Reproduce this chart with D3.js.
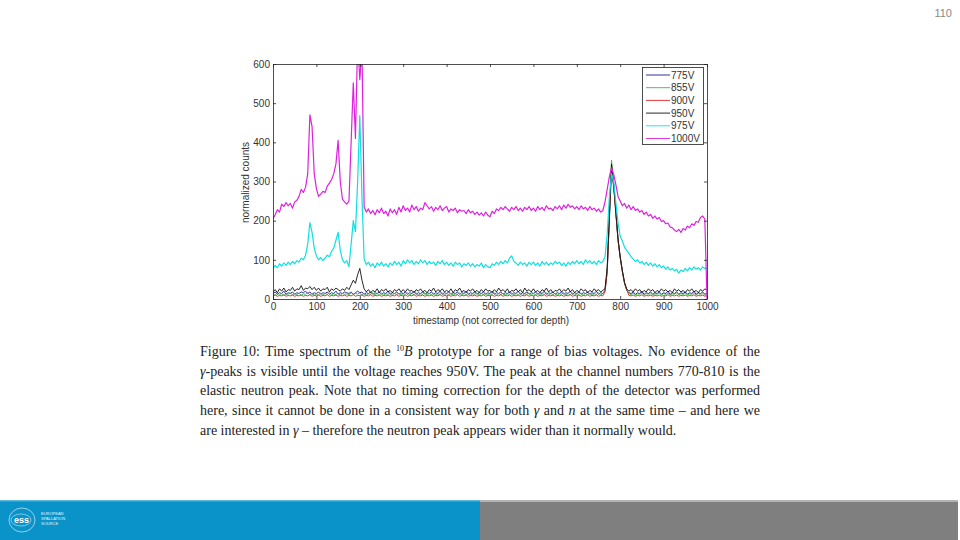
<!DOCTYPE html>
<html>
<head>
<meta charset="utf-8">
<script src="https://cdn.jsdelivr.net/npm/d3@7"></script>
<style>
  body { margin: 0; background: #fff; }
  #page { position: relative; width: 960px; height: 540px; overflow: hidden; }
  #caption { position: absolute; left: 200px; top: 342px; width: 560px;
    font-family: "Liberation Serif", "DejaVu Serif", serif; font-size: 14px; color: #222; }
  #caption div { height: 19.7px; line-height: 19.7px; white-space: nowrap; text-align: justify; text-align-last: justify; }
  #caption div.last { text-align-last: left; }
  #caption .sup { position: relative; top: -5px; font-size: 8px; line-height: 0; }
</style>
</head>
<body>
<div id="page"><div id="caption"></div></div>
<script>
// channel grid (every 5th timestamp)
const timestamps = d3.range(0, 1001, 5);

const v775 = [
  14,18,12,16,14,20,12,16,14,18,12,16,14,18,16,20,14,18,12,16,
  14,18,12,16,14,18,12,16,14,20,12,16,14,18,16,14,18,12,16,20,
  16,18,12,16,14,18,12,16,14,18,12,16,14,20,12,16,14,18,12,16,
  14,18,12,16,14,20,12,16,14,18,12,16,14,18,12,16,14,20,12,16,
  14,18,12,16,14,18,12,16,14,20,12,16,14,18,12,16,14,18,12,16,
  14,20,12,16,14,18,12,16,14,18,12,16,14,20,12,16,14,18,12,16,
  14,18,12,16,14,20,12,16,14,18,12,16,14,18,12,16,14,20,12,16,
  14,18,12,16,14,18,12,16,14,20,12,16,14,22,70,200,328,286,218,150,
  105,70,40,22,16,14,18,12,16,14,20,12,16,14,18,12,16,14,18,12,
  16,14,20,12,16,14,18,12,16,14,18,12,16,14,20,12,16,14,18,12,
  16];

const v855 = [
  12,10,15,11,14,9,13,12,16,10,14,11,15,10,13,12,16,11,14,10,
  13,11,15,10,14,12,16,10,13,11,15,10,14,12,13,11,16,12,14,13,
  15,11,14,10,13,12,16,10,14,11,15,10,13,12,16,10,14,11,15,10,
  13,12,16,10,14,11,15,10,13,12,16,10,14,11,15,10,13,12,16,10,
  14,11,15,10,13,12,16,10,14,11,15,10,13,12,16,10,14,11,15,10,
  13,12,16,10,14,11,15,10,13,12,16,10,14,11,15,10,13,12,16,10,
  14,11,15,10,13,12,16,10,14,11,15,10,13,12,16,10,14,11,15,10,
  13,12,16,10,14,11,15,10,13,12,16,10,14,20,72,212,355,290,220,150,
  108,70,40,22,14,11,15,10,13,12,16,10,14,11,15,10,13,12,16,10,
  14,11,15,10,13,12,16,10,14,11,15,10,13,12,16,10,14,11,15,10,
  12];

const v900 = [
  8,10,7,9,8,11,7,9,8,10,7,9,8,10,7,9,8,11,7,9,
  8,10,7,9,8,11,7,9,8,10,7,9,8,10,7,9,8,11,7,9,
  9,10,7,9,8,11,7,9,8,10,7,9,8,10,7,9,8,11,7,9,
  8,10,7,9,8,11,7,9,8,10,7,9,8,10,7,9,8,11,7,9,
  8,10,7,9,8,11,7,9,8,10,7,9,8,10,7,9,8,11,7,9,
  8,10,7,9,8,11,7,9,8,10,7,9,8,10,7,9,8,11,7,9,
  8,10,7,9,8,11,7,9,8,10,7,9,8,10,7,9,8,11,7,9,
  8,10,7,9,8,11,7,9,8,10,7,9,8,18,68,205,340,292,222,152,
  106,72,42,24,9,8,10,7,9,8,11,7,9,8,10,7,9,8,10,7,
  9,8,11,7,9,8,10,7,9,8,10,7,9,8,11,7,9,8,10,7,
  9];

const v950 = [
  18,24,16,26,20,28,18,24,22,30,20,26,24,34,22,28,26,32,24,30,
  22,28,20,26,24,30,18,26,22,28,24,20,26,22,30,24,36,48,40,62,
  78,48,26,18,24,16,22,18,26,16,24,20,26,18,22,16,24,20,26,18,
  24,18,26,20,22,16,24,20,26,18,22,16,24,20,28,18,24,20,26,18,
  22,18,26,16,24,20,28,18,22,16,24,20,26,18,22,16,24,18,26,20,
  22,16,24,18,28,20,24,18,26,16,22,20,26,18,24,16,28,20,24,18,
  26,18,22,16,24,20,28,18,24,16,22,20,26,18,24,20,28,18,24,16,
  22,18,26,20,24,16,22,18,26,20,24,18,22,26,80,215,345,292,222,155,
  108,72,42,26,20,24,18,26,20,24,16,22,18,26,20,24,16,22,18,26,
  20,24,18,22,16,26,20,24,18,22,16,24,20,26,18,22,16,24,20,26,
  22];

const v975 = [
  78,86,80,90,84,92,86,94,88,96,90,98,94,104,100,112,140,195,170,130,
  110,100,106,98,104,112,108,122,130,150,170,125,100,92,98,82,140,200,172,300,
  468,260,102,88,94,84,90,80,92,86,94,84,90,82,92,86,96,88,94,84,
  98,90,100,92,98,88,96,90,100,92,98,88,96,90,94,86,96,90,98,88,
  94,86,92,84,94,88,92,82,90,86,92,84,90,82,88,84,92,80,88,82,
  80,90,86,94,88,96,90,98,92,104,110,96,92,86,94,88,92,84,94,88,
  94,86,92,84,96,88,94,86,92,88,96,90,94,86,92,84,94,88,96,90,
  98,90,96,88,100,92,98,90,96,88,98,92,96,108,165,260,320,300,245,195,
  160,148,132,124,116,108,102,96,100,92,96,88,94,86,92,84,90,82,88,80,
  84,76,82,74,78,72,76,66,74,70,78,72,80,74,82,76,80,74,82,78,
  78];

const v1000 = [
  205,215,228,222,242,236,246,238,244,232,248,252,262,280,272,285,320,470,440,320,
  282,262,268,275,272,288,296,305,320,345,405,300,255,248,242,250,400,552,410,660,
  560,640,235,222,230,218,226,215,228,220,232,218,224,212,230,220,228,216,234,222,
  238,226,232,222,240,228,236,224,232,228,246,238,230,236,224,234,228,238,226,232,
  236,222,230,226,232,220,228,224,226,218,228,220,224,216,222,214,220,212,222,214,
  210,224,218,230,226,234,228,236,230,224,234,228,236,226,232,224,234,228,236,226,
  232,224,236,228,234,226,238,230,232,226,236,230,238,228,240,232,242,234,238,230,
  236,228,238,230,234,226,236,228,232,224,230,222,226,248,280,312,335,318,292,262,
  250,238,244,232,240,228,236,226,230,222,226,216,222,212,216,206,212,204,208,198,
  200,192,194,184,182,176,172,178,170,180,176,186,182,192,188,198,196,208,212,204,
  0];

const seriesNames = ["775V", "855V", "900V", "950V", "975V", "1000V"];
const seriesValues = [v775, v855, v900, v950, v975, v1000];
const seriesColors = ["#1c1c9a", "#33bb44", "#e02424", "#111111", "#10e0e0", "#dd22dd"];
const seriesWidths = [0.9, 0.9, 0.9, 0.9, 1.2, 1.2];
const xTicks = [0, 100, 200, 300, 400, 500, 600, 700, 800, 900, 1000];
const yTicks = [0, 100, 200, 300, 400, 500, 600];

const svg = d3.select("#page").insert("svg", "#caption")
    .attr("width", 960)
    .attr("height", 540)
    .style("position", "absolute")
    .style("left", 0)
    .style("top", 0);

const plotLeft = 273, plotRight = 707, plotTop = 64, plotBottom = 299;

const x = d3.scaleLinear().domain([0, 1000]).range([plotLeft, plotRight]);
const y = d3.scaleLinear().domain([0, 600]).range([plotBottom, plotTop]);

svg.append("clipPath").attr("id", "plotClip")
  .append("rect")
    .attr("x", plotLeft).attr("y", plotTop)
    .attr("width", plotRight - plotLeft).attr("height", plotBottom - plotTop);

// lines
const line = d3.line()
    .x((d, i) => x(timestamps[i]))
    .y(d => y(d));

svg.append("g")
    .attr("clip-path", "url(#plotClip)")
  .selectAll("path")
  .data(seriesValues)
  .join("path")
    .attr("d", d => line(d))
    .attr("fill", "none")
    .attr("stroke", (d, i) => seriesColors[i])
    .attr("stroke-width", (d, i) => seriesWidths[i])
    .attr("stroke-linejoin", "round");

// axes, ticks inside on all four sides
function styleAxis(g) {
    g.selectAll("path").attr("stroke", "#222").attr("stroke-width", 0.8);
    g.selectAll("line").attr("stroke", "#222").attr("stroke-width", 0.8);
    g.selectAll("text")
        .attr("font-family", "'Liberation Sans', Arial, sans-serif")
        .attr("font-size", 10)
        .attr("fill", "#333");
}

svg.append("g")
    .attr("transform", `translate(0,${plotBottom})`)
    .call(d3.axisBottom(x).tickValues(xTicks).tickFormat(d3.format("d"))
        .tickSizeInner(-3).tickSizeOuter(0).tickPadding(4))
    .call(styleAxis);

svg.append("g")
    .attr("transform", `translate(0,${plotTop})`)
    .call(d3.axisTop(x).tickValues(xTicks).tickSizeInner(-3).tickSizeOuter(0).tickFormat(""))
    .call(styleAxis);

svg.append("g")
    .attr("transform", `translate(${plotLeft},0)`)
    .call(d3.axisLeft(y).tickValues(yTicks).tickSizeInner(-3).tickSizeOuter(0).tickPadding(3))
    .call(styleAxis);

svg.append("g")
    .attr("transform", `translate(${plotRight},0)`)
    .call(d3.axisRight(y).tickValues(yTicks).tickSizeInner(-3).tickSizeOuter(0).tickFormat(""))
    .call(styleAxis);

// axis titles
svg.append("text")
    .attr("x", (plotLeft + plotRight) / 2 + 1)
    .attr("y", 324)
    .attr("text-anchor", "middle")
    .attr("font-family", "'Liberation Sans', Arial, sans-serif")
    .attr("font-size", 10)
    .attr("fill", "#333")
    .text("timestamp (not corrected for depth)");

svg.append("text")
    .attr("transform", `translate(249,${(plotTop + plotBottom) / 2 + 1}) rotate(-90)`)
    .attr("text-anchor", "middle")
    .attr("font-family", "'Liberation Sans', Arial, sans-serif")
    .attr("font-size", 10)
    .attr("fill", "#333")
    .text("normalized counts");

// legend
const legend = svg.append("g");
legend.append("rect")
    .attr("x", 642.5).attr("y", 67.5)
    .attr("width", 61).attr("height", 77)
    .attr("fill", "#fff")
    .attr("stroke", "#222")
    .attr("stroke-width", 0.8);

const rows = legend.selectAll("g.row")
  .data(seriesNames)
  .join("g")
    .attr("class", "row")
    .attr("transform", (d, i) => `translate(0,${75 + i * 12.7})`);

rows.append("line")
    .attr("x1", 646).attr("x2", 670)
    .attr("stroke", (d, i) => seriesColors[i])
    .attr("stroke-width", 0.9);

rows.append("text")
    .attr("x", 671)
    .attr("dy", "0.35em")
    .attr("font-family", "'Liberation Sans', Arial, sans-serif")
    .attr("font-size", 10)
    .attr("fill", "#333")
    .text(d => d);

// page number
svg.append("text")
    .attr("x", 952).attr("y", 17)
    .attr("text-anchor", "end")
    .attr("font-family", "'Liberation Sans', Arial, sans-serif")
    .attr("font-size", 11)
    .attr("fill", "#888")
    .text("110");

// footer bar
svg.append("rect").attr("x", 0).attr("y", 500).attr("width", 480).attr("height", 40).attr("fill", "#0a93c8");
svg.append("rect").attr("x", 0).attr("y", 500).attr("width", 480).attr("height", 1.5).attr("fill", "#5bb6dd");
svg.append("rect").attr("x", 480).attr("y", 500).attr("width", 478).attr("height", 40).attr("fill", "#7f7f7f");
svg.append("rect").attr("x", 480).attr("y", 500).attr("width", 478).attr("height", 2).attr("fill", "#b4b4b4");

const logo = svg.append("g");
logo.append("ellipse").attr("cx", 22).attr("cy", 520).attr("rx", 13).attr("ry", 12)
    .attr("fill", "none").attr("stroke", "#cfe9f5").attr("stroke-width", 0.7);
logo.append("ellipse").attr("cx", 21).attr("cy", 520).attr("rx", 10).attr("ry", 6)
    .attr("fill", "none").attr("stroke", "#cfe9f5").attr("stroke-width", 0.6);
logo.append("text").attr("x", 21.5).attr("y", 523)
    .attr("text-anchor", "middle")
    .attr("font-family", "'Liberation Sans', Arial, sans-serif")
    .attr("font-weight", "bold")
    .attr("font-size", 9)
    .attr("fill", "#fff")
    .text("ess");
logo.selectAll("text.org")
  .data(["EUROPEAN", "SPALLATION", "SOURCE"])
  .join("text")
    .attr("class", "org")
    .attr("x", 41)
    .attr("y", (d, i) => 515 + i * 5)
    .attr("font-family", "'Liberation Sans', Arial, sans-serif")
    .attr("font-size", 4)
    .attr("fill", "#e8f4fa")
    .text(d => d);

// caption
const captionLines = [
  'Figure 10: Time spectrum of the <span class="sup">10</span><i>B</i> prototype for a range of bias voltages. No evidence of the',
  '<i>γ</i>-peaks is visible until the voltage reaches 950V. The peak at the channel numbers 770-810 is the',
  'elastic neutron peak. Note that no timing correction for the depth of the detector was performed',
  'here, since it cannot be done in a consistent way for both <i>γ</i> and <i>n</i> at the same time – and here we',
  'are interested in <i>γ</i> – therefore the neutron peak appears wider than it normally would.'
];

d3.select("#caption").selectAll("div")
  .data(captionLines)
  .join("div")
    .attr("class", (d, i) => i === captionLines.length - 1 ? "last" : null)
    .html(d => d);
</script>
</body>
</html>
